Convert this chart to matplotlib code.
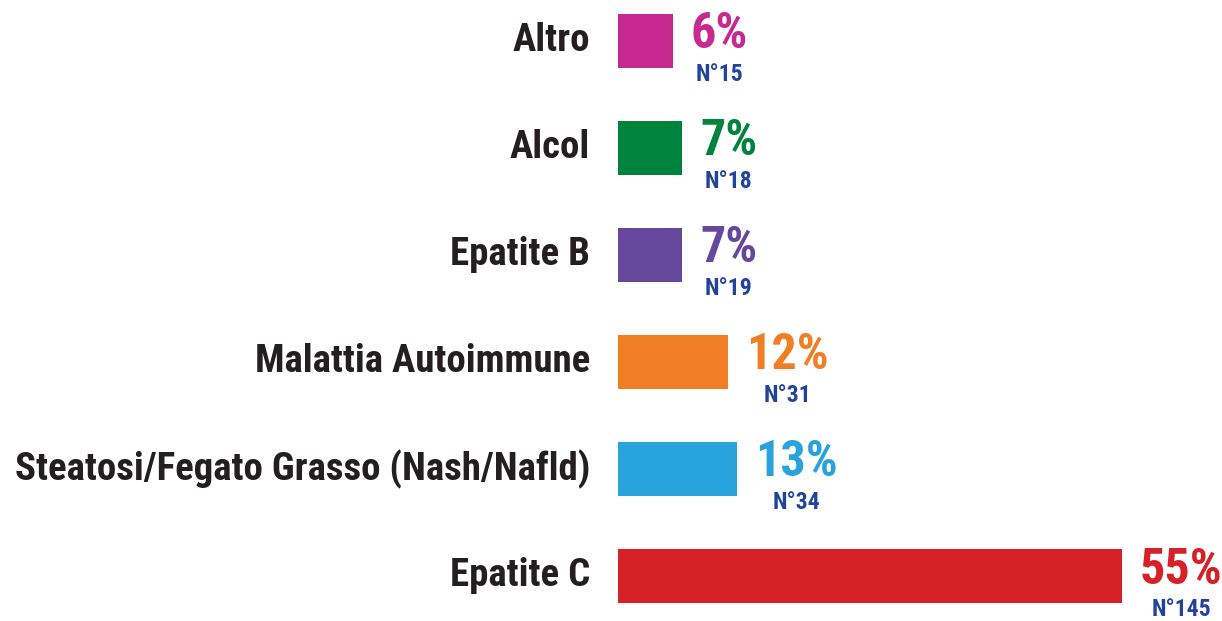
import matplotlib
matplotlib.use("Agg")
import matplotlib.pyplot as plt
import logging
logging.getLogger("matplotlib.font_manager").setLevel(logging.ERROR)

categories = ["Altro", "Alcol", "Epatite B", "Malattia Autoimmune",
              "Steatosi/Fegato Grasso (Nash/Nafld)", "Epatite C"]
percent = [6, 7, 7, 12, 13, 55]
counts = [15, 18, 19, 31, 34, 145]
colors = ["#C6298F", "#00833D", "#65479B", "#F07F24", "#29A3DB", "#D62128"]

FONT = ["Roboto Condensed", "Archivo Narrow", "IBM Plex Sans Condensed",
        "Open Sans Condensed", "DejaVu Sans"]
TXT = "#231F20"
NCOL = "#22439A"

fig = plt.figure(figsize=(12.22, 6.21), dpi=100)
left = 618 / 1222
ax = fig.add_axes([left, 0.0, 1 - left, 1.0])
ypos = list(range(len(categories)))
ax.barh(ypos, percent, height=0.5, color=colors)
ax.set_ylim(5 + 45 / 107, -41 / 107)
xmax = 55 * (1222 - 618) / (1122 - 618)
ax.set_xlim(0, xmax)
ax.axis("off")

for y, cat, p, n, c in zip(ypos, categories, percent, counts, colors):
    ax.annotate(cat, xy=(0, y), xytext=(-28, 0), textcoords="offset pixels",
                ha="right", va="center", fontsize=28, fontweight="bold",
                color=TXT, family=FONT)
    t = ax.annotate(f"{p}%", xy=(p, y), xytext=(18, 6), textcoords="offset pixels",
                    ha="left", va="center", fontsize=36, fontweight="bold",
                    color=c, family=FONT)
    ax.annotate(f"N°{n}", xy=(0.5, 0), xycoords=t, xytext=(0, -5),
                textcoords="offset pixels", ha="center", va="top",
                fontsize=17, fontweight="bold", color=NCOL, family=FONT)

fig.savefig("out.png", dpi=100)
